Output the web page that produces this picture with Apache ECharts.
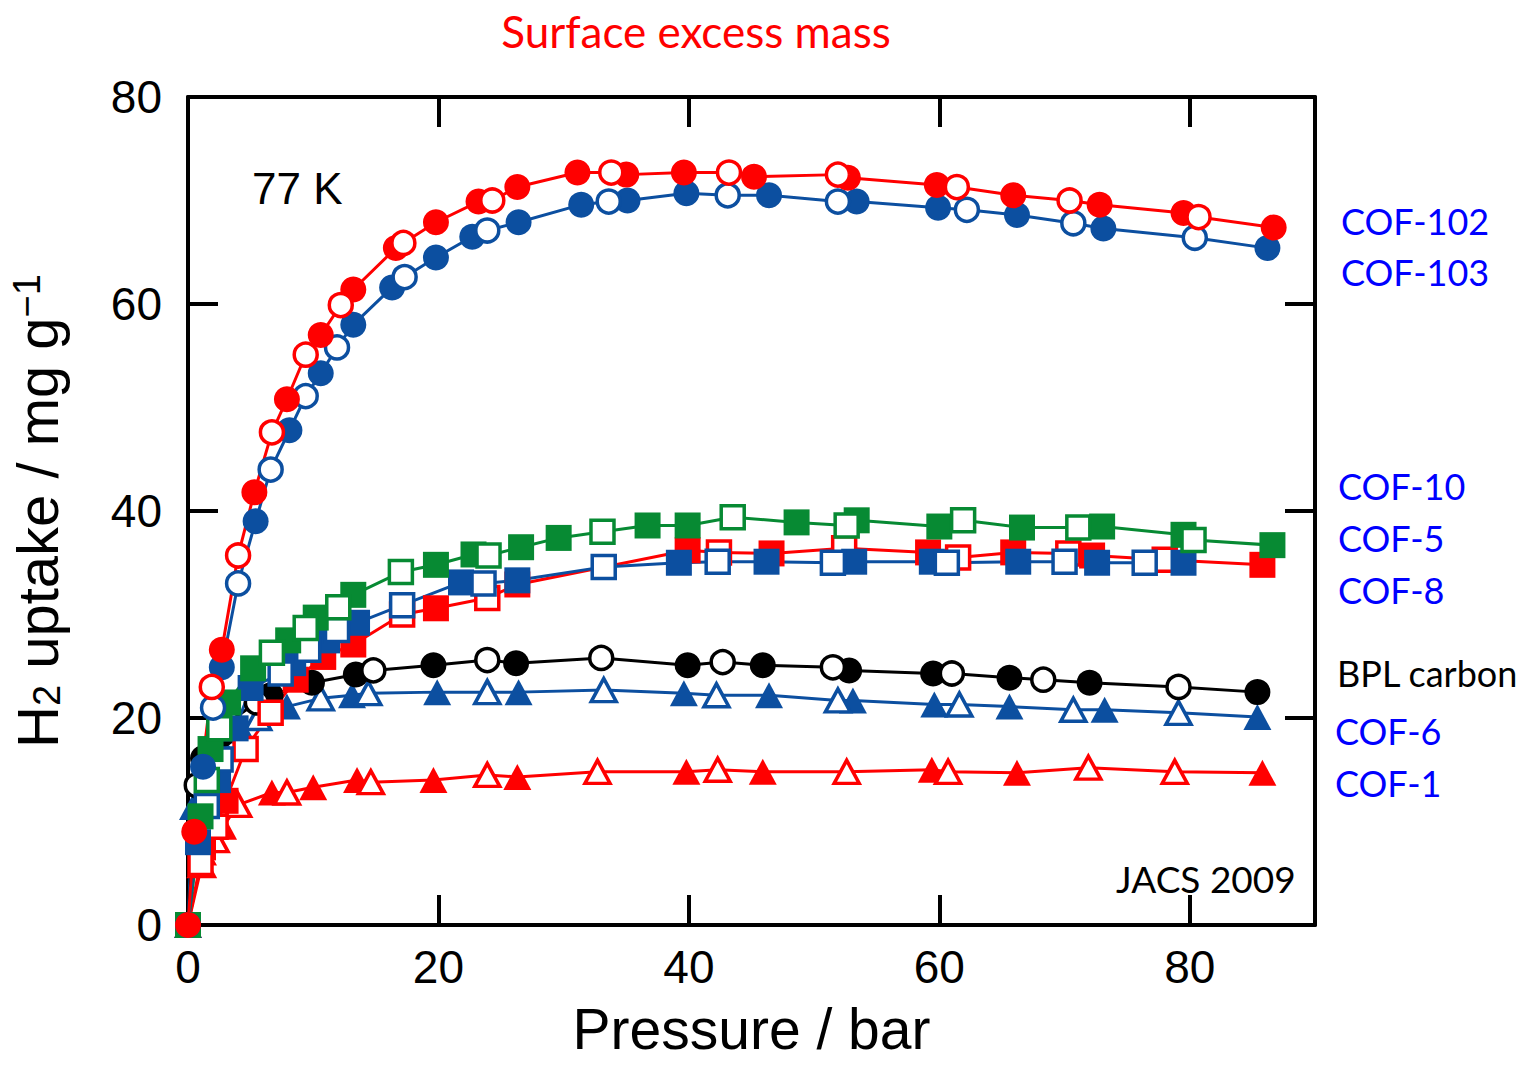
<!DOCTYPE html>
<html><head><meta charset="utf-8">
<script src="https://cdn.jsdelivr.net/npm/echarts@6/dist/echarts.min.js"></script>
<style>html,body{margin:0;padding:0;background:#fff}#c{width:1531px;height:1066px}</style>
</head><body><div id="c"></div>
<script>
// ---- tick labels ----
const xTickLabels = [0, 20, 40, 60, 80];
const yTickLabels = [0, 20, 40, 60, 80];

// ---- data: [pressure (bar), H2 uptake (mg/g)]; "Ads" = filled symbols, "Des" = open symbols ----
const cof102Ads = [[0,0],[0.5,9.0],[2.7,26.6],[5.3,41.8],[7.9,50.8],[10.6,57.0],[13.2,61.4],[16.6,65.4],[19.8,67.9],[23.2,69.9],[26.3,71.3],[31.1,72.7],[35.0,72.5],[39.6,72.7],[45.2,72.3],[52.7,72.2],[59.8,71.5],[65.9,70.5],[72.8,69.6],[79.5,68.8],[86.7,67.4]];
const cof102Des = [[1.9,23.0],[4.0,35.7],[6.7,47.6],[9.4,55.1],[12.2,59.9],[17.2,65.9],[24.3,70.0],[33.8,72.7],[43.2,72.7],[51.9,72.5],[61.4,71.3],[70.4,70.0],[80.7,68.4]];

const cof103Ads = [[0,0],[1.2,15.3],[2.7,24.9],[5.4,39.0],[8.1,47.8],[10.6,53.3],[13.2,58.0],[16.3,61.6],[19.8,64.5],[22.7,66.5],[26.4,67.9],[31.4,69.6],[35.1,70.0],[39.8,70.7],[46.4,70.5],[53.4,69.9],[59.9,69.3],[66.2,68.6],[73.1,67.3],[86.2,65.4]];
const cof103Des = [[2.0,21.0],[4.0,33.0],[6.6,44.0],[9.4,51.1],[11.9,55.8],[17.3,62.6],[23.9,67.1],[33.6,69.9],[43.1,70.5],[51.9,69.9],[62.2,69.1],[70.7,67.8],[80.4,66.4]];

const cof10Ads = [[0,0],[1.0,10.5],[1.8,17.0],[3.2,21.5],[5.2,24.8],[8.0,27.5],[10.2,29.7],[13.2,31.9],[19.8,34.8],[22.8,35.8],[26.6,36.5],[29.6,37.4],[36.7,38.6],[39.9,38.6],[48.6,38.9],[53.4,39.1],[60.0,38.5],[66.6,38.4],[73.0,38.5],[79.5,37.7],[86.6,36.7]];
const cof10Des = [[1.5,14.0],[2.5,19.0],[6.7,26.3],[9.4,28.7],[12.0,30.7],[17.0,34.1],[24.0,35.7],[33.1,38.0],[43.5,39.4],[52.6,38.6],[61.9,39.1],[71.1,38.4],[80.3,37.2]];

const cof5Ads = [[0,0],[0.8,8.0],[2.4,14.0],[3.8,19.0],[5.0,22.9],[8.4,25.3],[11.1,27.5],[13.5,29.2],[21.8,33.1],[26.3,33.3],[39.2,35.0],[46.2,35.1],[53.2,35.1],[59.4,35.1],[66.3,35.1],[72.6,35.0],[79.5,35.0]];
const cof5Des = [[1.5,11.5],[2.6,16.0],[7.4,24.3],[9.6,26.6],[11.9,28.5],[17.1,30.9],[23.6,33.0],[33.2,34.6],[42.3,35.1],[51.5,35.0],[60.6,35.0],[70.0,35.1],[76.4,35.0]];

const cof8Ads = [[0,0],[1.2,7.5],[3.0,12.0],[8.6,23.7],[10.8,25.9],[13.2,27.1],[19.8,30.6],[26.3,32.9],[39.9,36.2],[46.6,35.9],[59.1,36.0],[65.9,36.0],[72.2,35.7],[85.8,34.8]];
const cof8Des = [[1.0,6.0],[2.2,9.5],[4.6,17.0],[6.6,20.5],[17.1,30.0],[23.9,31.6],[42.4,36.0],[52.4,36.4],[61.5,35.5],[70.3,35.9],[78.0,35.3]];

const bplAds = [[0,0],[1.2,16.1],[2.7,18.4],[6.6,22.2],[9.9,23.4],[13.4,24.2],[19.6,25.1],[26.2,25.3],[39.9,25.1],[45.9,25.1],[52.8,24.6],[59.5,24.3],[65.6,23.9],[72.0,23.4],[85.4,22.5]];
const bplDes = [[0.7,13.5],[3.2,19.6],[5.5,21.5],[14.8,24.6],[23.9,25.6],[33.0,25.8],[42.7,25.4],[51.5,24.9],[61.0,24.3],[68.3,23.7],[79.1,23.0]];

const cof6Ads = [[0,0],[0.4,11.4],[2.8,17.2],[4.3,18.8],[7.9,21.1],[13.1,22.2],[19.9,22.5],[26.4,22.5],[39.6,22.4],[46.4,22.2],[53.1,21.7],[59.6,21.3],[65.6,21.1],[73.2,20.8],[85.4,20.1]];
const cof6Des = [[1.5,14.5],[5.6,20.0],[10.6,21.9],[14.4,22.4],[23.9,22.5],[33.2,22.7],[42.2,22.2],[51.9,21.7],[61.6,21.3],[70.7,20.8],[79.1,20.5]];

const cof1Ads = [[0,0],[1.2,7.0],[2.8,9.5],[6.7,12.8],[10.0,13.3],[13.5,14.0],[19.6,14.0],[26.3,14.3],[39.8,14.8],[45.9,14.8],[59.4,15.0],[66.2,14.7],[85.8,14.7]];
const cof1Des = [[1.1,5.8],[2.2,8.2],[4.0,11.6],[7.9,12.8],[14.6,13.8],[23.9,14.5],[32.7,14.8],[42.3,15.0],[52.6,14.8],[60.7,14.8],[71.9,15.2],[78.8,14.8]];

// ---- right-hand labels ----
const sideLabels = ['COF-102','COF-103','COF-10','COF-5','COF-8','BPL carbon','COF-6','COF-1'];

// ---- styles ----
const RED = '#ff0000', BLUE = '#0c4fa0', GREEN = '#078a33', BLACK = '#000000';
const materials = [
  {name:'COF-1',   color:RED,   symbol:'triangle', ads:cof1Ads,   des:cof1Des},
  {name:'COF-6',   color:BLUE,  symbol:'triangle', ads:cof6Ads,   des:cof6Des},
  {name:'BPL carbon', color:BLACK, symbol:'circle', ads:bplAds,  des:bplDes},
  {name:'COF-8',   color:RED,   symbol:'rect',     ads:cof8Ads,   des:cof8Des},
  {name:'COF-5',   color:BLUE,  symbol:'rect',     ads:cof5Ads,   des:cof5Des},
  {name:'COF-10',  color:GREEN, symbol:'rect',     ads:cof10Ads,  des:cof10Des},
  {name:'COF-103', color:BLUE,  symbol:'circle',   ads:cof103Ads, des:cof103Des},
  {name:'COF-102', color:RED,   symbol:'circle',   ads:cof102Ads, des:cof102Des}
];
function symSize(sym, open){
  if (sym === 'triangle') return open ? [25,23] : [28,26];
  if (sym === 'rect') return open ? 23 : 26;
  return open ? 23 : 26;
}
const series = [];
materials.forEach((m) => {
  const pts = m.ads.concat(m.des).sort((a,b)=>a[0]-b[0]);
  series.push({type:'line', name:m.name+' line', data:pts, showSymbol:false, symbol:'none', z:2,
    lineStyle:{color:m.color, width:3}, silent:true});
});
materials.forEach((m) => {
  series.push({type:'scatter', name:m.name+' ads', data:m.ads, symbol:m.symbol, symbolSize:symSize(m.symbol,false), z:3,
    itemStyle:{color:m.color, opacity:1}});
  series.push({type:'scatter', name:m.name+' des', data:m.des, symbol:m.symbol, symbolSize:symSize(m.symbol,true), z:3,
    itemStyle:{color:'#ffffff', borderColor:m.color, borderWidth:3.5, opacity:1}});
});

const AX = 'Liberation Sans, Arial, sans-serif';
const LBL = 'Lato, Open Sans, sans-serif';
const axisCommon = {
  axisLine:{show:true, onZero:false, lineStyle:{color:'#000', width:4}},
  axisTick:{show:true, inside:true, length:30, lineStyle:{color:'#000', width:4}},
  splitLine:{show:false}
};
const chart = echarts.init(document.getElementById('c'), null, {renderer:'svg'});
const sideY = [221, 272, 486, 538, 590, 673, 731, 783];
const sideX = [1341, 1341, 1338, 1338, 1338, 1337, 1335, 1335];
const graphics = sideLabels.map((t, i) => ({
  type:'text', x:sideX[i], y:sideY[i],
  style:{text:t, fill: t === 'BPL carbon' ? '#000' : '#0000ff', font:'36px ' + LBL, textAlign:'left', textVerticalAlign:'middle'}
}));
graphics.push({type:'text', x:696, y:31, style:{text:'Surface excess mass', fill:'#ff0000', font:'44px ' + LBL, textAlign:'center', textVerticalAlign:'middle'}});
graphics.push({type:'text', x:252, y:188, style:{text:'77 K', fill:'#000', font:'44px ' + AX, textAlign:'left', textVerticalAlign:'middle'}});
graphics.push({type:'text', x:1116, y:878, style:{text:'JACS 2009', fill:'#000', font:'37px ' + LBL, textAlign:'left', textVerticalAlign:'middle'}});

chart.setOption({
  animation:false,
  backgroundColor:'#fff',
  grid:{left:188, top:97, right:216, bottom:141, outerBoundsMode:'none', containLabel:false},
  xAxis:[
    Object.assign({type:'value', position:'bottom', min:0, max:90, interval:20,
      name:'Pressure / bar', nameLocation:'middle', nameGap:84,
      nameTextStyle:{fontFamily:AX, fontSize:57, lineHeight:40, color:'#000'},
      axisLabel:{show:true, showMaxLabel:false, margin:19, fontFamily:AX, fontSize:46, color:'#000',
        formatter: v => xTickLabels.indexOf(v) >= 0 ? String(v) : ''}}, axisCommon),
    Object.assign({type:'value', position:'top', min:0, max:90, interval:20, axisLabel:{show:false}}, axisCommon)
  ],
  yAxis:[
    Object.assign({type:'value', position:'left', min:0, max:80, interval:20,
      name:'{a|H}{s|2}{a| uptake / mg g}{p|−1}', nameLocation:'middle', nameGap:122, nameRotate:90,
      nameTextStyle:{rich:{
        a:{fontFamily:AX, fontSize:58, color:'#000'},
        s:{fontFamily:AX, fontSize:38, color:'#000', verticalAlign:'bottom'},
        p:{fontFamily:AX, fontSize:38, color:'#000', verticalAlign:'top'}
      }},
      axisLabel:{show:true, margin:26, fontFamily:AX, fontSize:46, color:'#000',
        formatter: v => yTickLabels.indexOf(v) >= 0 ? String(v) : ''}}, axisCommon),
    Object.assign({type:'value', position:'right', min:0, max:80, interval:20, axisLabel:{show:false}}, axisCommon)
  ],
  graphic:graphics,
  series:series
});
</script>
</body></html>
